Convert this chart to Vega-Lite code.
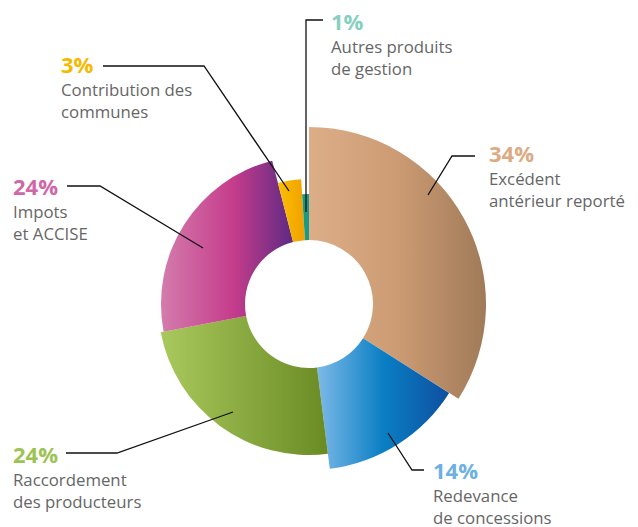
{
  "$schema": "https://vega.github.io/schema/vega-lite/v6.json",
  "width": 600,
  "height": 400,
  "autosize": {"type": "none"},
  "padding": {"left": 9, "top": 104, "right": 29, "bottom": 23},
  "background": "white",
  "config": {"view": {"stroke": null}},
  "layer": [
    {
      "data": {"values": [
        {"rank": 1, "key": "exc", "value": 34},
        {"rank": 2, "key": "red", "value": 14},
        {"rank": 3, "key": "rac", "value": 24},
        {"rank": 4, "key": "imp", "value": 24},
        {"rank": 5, "key": "con", "value": 3},
        {"rank": 6, "key": "aut", "value": 1}
      ]},
      "transform": [
        {"stack": "value", "groupby": [], "sort": [{"field": "rank", "order": "ascending"}], "as": ["t0", "t1"]}
      ],
      "mark": {"type": "arc", "innerRadius": 64},
      "encoding": {
        "theta": {"field": "t0", "type": "quantitative", "stack": null, "scale": {"domain": [0, 100], "range": [0, 6.283185307179586], "nice": false, "zero": false}},
        "theta2": {"field": "t1"},
        "radius": {"field": "rank", "type": "quantitative", "scale": {"type": "linear", "domain": [1, 2, 3, 4, 5, 6], "range": [177, 166, 151, 148, 125, 110], "zero": false, "nice": false}},
        "fill": {
          "condition": [
            {"test": "datum.key === 'exc'", "value": {"gradient": "linear", "x1": 0, "y1": 0, "x2": 1, "y2": 0, "stops": [{"offset": 0, "color": "#dcae87"}, {"offset": 0.5, "color": "#cc9b74"}, {"offset": 1, "color": "#a07a58"}]}},
            {"test": "datum.key === 'red'", "value": {"gradient": "linear", "x1": 0, "y1": 0, "x2": 1, "y2": 0, "stops": [{"offset": 0, "color": "#7db9e8"}, {"offset": 0.5, "color": "#0a7fc4"}, {"offset": 1, "color": "#0e4f9f"}]}},
            {"test": "datum.key === 'rac'", "value": {"gradient": "linear", "x1": 0, "y1": 0, "x2": 1, "y2": 0, "stops": [{"offset": 0, "color": "#a9c95d"}, {"offset": 1, "color": "#6a8b24"}]}},
            {"test": "datum.key === 'imp'", "value": {"gradient": "linear", "x1": 0, "y1": 0, "x2": 1, "y2": 0, "stops": [{"offset": 0, "color": "#d47cad"}, {"offset": 0.55, "color": "#c53c8b"}, {"offset": 1, "color": "#5d2a83"}]}},
            {"test": "datum.key === 'con'", "value": {"gradient": "linear", "x1": 0, "y1": 0, "x2": 1, "y2": 0, "stops": [{"offset": 0, "color": "#fbbf00"}, {"offset": 1, "color": "#f0a000"}]}}
          ],
          "value": "#1a9a85"
        }
      }
    },
    {
      "data": {"values": [
        {"key": "aut", "seq": 1, "px": -3, "py": 92},
        {"key": "aut", "seq": 2, "px": -3, "py": 284},
        {"key": "aut", "seq": 3, "px": 14, "py": 284},
        {"key": "exc", "seq": 1, "px": 119, "py": 109},
        {"key": "exc", "seq": 2, "px": 143, "py": 148},
        {"key": "exc", "seq": 3, "px": 166, "py": 148},
        {"key": "con", "seq": 1, "px": -206, "py": 238},
        {"key": "con", "seq": 2, "px": -105, "py": 238},
        {"key": "con", "seq": 3, "px": -20, "py": 113},
        {"key": "imp", "seq": 1, "px": -242, "py": 118},
        {"key": "imp", "seq": 2, "px": -209, "py": 118},
        {"key": "imp", "seq": 3, "px": -106, "py": 56},
        {"key": "rac", "seq": 1, "px": -243, "py": -149},
        {"key": "rac", "seq": 2, "px": -192, "py": -149},
        {"key": "rac", "seq": 3, "px": -76, "py": -108},
        {"key": "red", "seq": 1, "px": 79, "py": -129},
        {"key": "red", "seq": 2, "px": 103, "py": -166},
        {"key": "red", "seq": 3, "px": 115, "py": -166}
      ]},
      "mark": {"type": "line", "stroke": "#111111", "strokeWidth": 1.3, "clip": false},
      "encoding": {
        "x": {"field": "px", "type": "quantitative", "scale": {"domain": [-300, 300], "nice": false, "zero": false}, "axis": null},
        "y": {"field": "py", "type": "quantitative", "scale": {"domain": [-200, 200], "nice": false, "zero": false}, "axis": null},
        "detail": {"field": "key"},
        "order": {"field": "seq", "type": "quantitative"}
      }
    },
    {
      "data": {"name": "labels", "values": [
        {"key": "aut", "pct": "1%", "desc": "Autres produits\nde gestion", "tx": 22, "ty": 274},
        {"key": "exc", "pct": "34%", "desc": "Excédent\nantérieur reporté", "tx": 180, "ty": 142},
        {"key": "con", "pct": "3%", "desc": "Contribution des\ncommunes", "tx": -248, "ty": 231},
        {"key": "imp", "pct": "24%", "desc": "Impots\net ACCISE", "tx": -296, "ty": 109},
        {"key": "rac", "pct": "24%", "desc": "Raccordement\ndes producteurs", "tx": -296, "ty": -159},
        {"key": "red", "pct": "14%", "desc": "Redevance\nde concessions", "tx": 124, "ty": -175}
      ]},
      "layer": [
        {
          "mark": {"type": "text", "align": "left", "baseline": "alphabetic", "font": "Open Sans", "fontSize": 22, "fontWeight": "bold"},
          "encoding": {
            "x": {"field": "tx", "type": "quantitative", "scale": {"domain": [-300, 300], "nice": false, "zero": false}, "axis": null},
            "y": {"field": "ty", "type": "quantitative", "scale": {"domain": [-200, 200], "nice": false, "zero": false}, "axis": null},
            "text": {"field": "pct"},
            "color": {"field": "key", "type": "nominal", "legend": null, "scale": {"domain": ["aut", "exc", "con", "imp", "rac", "red"], "range": ["#86cfbf", "#dcab83", "#f7b900", "#d167a6", "#9dc452", "#6db0e2"]}}
          }
        },
        {
          "mark": {"type": "text", "align": "left", "baseline": "alphabetic", "font": "Open Sans", "fontSize": 16.8, "fill": "#666666", "lineBreak": "\n", "lineHeight": 21.5, "dy": 23},
          "encoding": {
            "x": {"field": "tx", "type": "quantitative", "scale": {"domain": [-300, 300], "nice": false, "zero": false}, "axis": null},
            "y": {"field": "ty", "type": "quantitative", "scale": {"domain": [-200, 200], "nice": false, "zero": false}, "axis": null},
            "text": {"field": "desc"}
          }
        }
      ]
    }
  ]
}
